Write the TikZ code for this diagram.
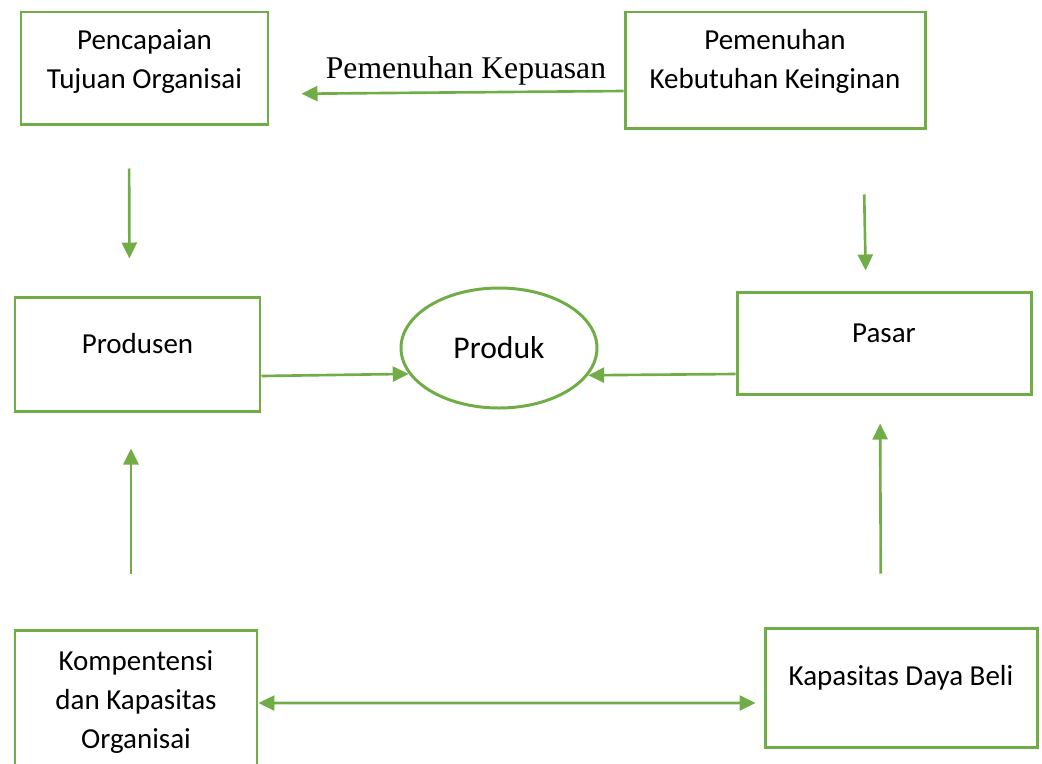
\documentclass[tikz,border=0pt]{standalone}
\usepackage{fontspec}
\setmainfont{Carlito}
\newfontfamily\labelfont{Liberation Serif}
\usetikzlibrary{arrows.meta,shapes.geometric}
\definecolor{leaf}{RGB}{112,173,71}
\begin{document}
\begin{tikzpicture}[
    box/.style={rectangle, draw=leaf, line width=1.7pt, align=center, font=\fontsize{16.5}{22}\selectfont},
    oval/.style={ellipse, draw=leaf, line width=1.7pt, minimum width=3.92cm, minimum height=2.4cm, font=\fontsize{18}{22}\selectfont},
    arrow/.style={-{Triangle[length=0.32cm,width=0.3cm]}, line width=1.5pt, leaf},
    both/.style={{Triangle[length=0.32cm,width=0.3cm]}-{Triangle[length=0.32cm,width=0.3cm]}, line width=1.5pt, leaf},
    lbl/.style={font=\labelfont\fontsize{18}{22}\selectfont, text=black},
]
\clip (0,0) rectangle (20.84,-15.26);

\node[box, minimum width=4.94cm, minimum height=2.24cm, text depth=0.36cm] (TUJUAN) at (2.89,-1.36) {Pencapaian\\Tujuan Organisai};
\node[box, minimum width=6.0cm, minimum height=2.32cm, text depth=0.44cm] (KEBUTUHAN) at (15.5,-1.40) {Pemenuhan\\Kebutuhan Keinginan};

\node[box, minimum width=4.9cm, minimum height=2.28cm, text depth=0.44cm] (PRODUSEN) at (2.75,-7.08) {Produsen};
\node[oval] (PRODUK) at (9.98,-6.96) {Produk};
\node[box, minimum width=5.88cm, minimum height=2.04cm, text depth=0.4cm] (PASAR) at (17.68,-6.86) {Pasar};

\node[box, minimum width=4.84cm, minimum height=2.88cm] (KOMPETENSI) at (2.72,-14.04) {Kompentensi\\dan Kapasitas\\Organisai};
\node[box, minimum width=5.44cm, minimum height=2.38cm, text depth=0.48cm] (DAYABELI) at (18.02,-13.75) {Kapasitas Daya Beli};

\draw[arrow, shorten >=0.64cm] ([yshift=-0.42cm]KEBUTUHAN.west) -- node[lbl, pos=0.445, above] {Pemenuhan Kepuasan} ([yshift=-0.52cm]TUJUAN.east);
\draw[arrow, shorten <=0.86cm, shorten >=0.74cm] ([xshift=-0.31cm]TUJUAN.south) -- ([xshift=-0.16cm]PRODUSEN.north);
\draw[arrow, shorten <=1.3cm, shorten >=0.4cm] ([xshift=1.76cm]KEBUTUHAN.south) -- ([xshift=-0.36cm]PASAR.north);

\draw[arrow] ([yshift=-0.44cm]PRODUSEN.east) -- (PRODUK.196);
\draw[arrow] ([yshift=-0.62cm]PASAR.west) -- (PRODUK.-17);

\draw[arrow, shorten <=1.1cm, shorten >=0.72cm] ([xshift=-0.1cm]KOMPETENSI.north) -- ([xshift=-0.13cm]PRODUSEN.south);
\draw[arrow, shorten <=1.06cm, shorten >=0.56cm] ([xshift=-0.4cm]DAYABELI.north) -- ([xshift=-0.08cm]PASAR.south);
\draw[both, shorten >=0.16cm] ([yshift=-0.02cm]KOMPETENSI.east) -- ([yshift=-0.31cm]DAYABELI.west);
\end{tikzpicture}
\end{document}
